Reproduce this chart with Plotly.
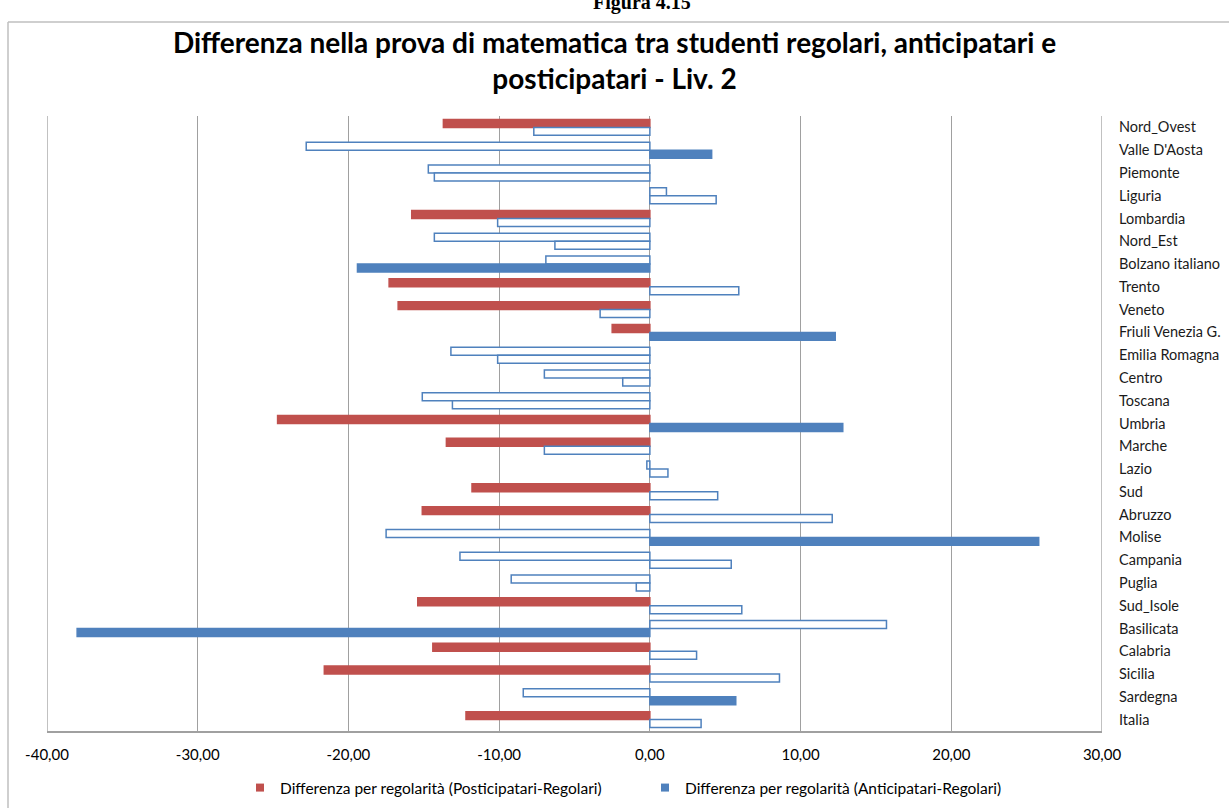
import plotly.graph_objects as go

categories = ["Nord_Ovest", "Valle D'Aosta", "Piemonte", "Liguria", "Lombardia", "Nord_Est",
              "Bolzano italiano", "Trento", "Veneto", "Friuli Venezia G.", "Emilia Romagna",
              "Centro", "Toscana", "Umbria", "Marche", "Lazio", "Sud", "Abruzzo", "Molise",
              "Campania", "Puglia", "Sud_Isole", "Basilicata", "Calabria", "Sicilia",
              "Sardegna", "Italia"]

posticipatari = [-13.7, -22.8, -14.7, 1.1, -15.8, -14.3, -6.9, -17.3, -16.7, -2.5, -13.2,
                 -7.0, -15.1, -24.7, -13.5, -0.2, -11.8, -15.1, -17.5, -12.6, -9.2, -15.4,
                 15.7, -14.4, -21.6, -8.4, -12.2]
anticipatari = [-7.7, 4.1, -14.3, 4.4, -10.1, -6.3, -19.4, 5.9, -3.3, 12.3, -10.1,
                -1.8, -13.1, 12.8, -7.0, 1.2, 4.5, 12.1, 25.8, 5.4, -0.9, 6.1,
                -38.0, 3.1, 8.6, 5.7, 3.4]

# 1 = significant (filled bar), 0 = not significant (hollow bar)
post_sig = [1, 0, 0, 0, 1, 0, 0, 1, 1, 1, 0, 0, 0, 1, 1, 0, 1, 1, 0, 0, 0, 1, 0, 1, 1, 0, 1]
anti_sig = [0, 1, 0, 0, 0, 0, 1, 0, 0, 1, 0, 0, 0, 1, 0, 0, 0, 0, 1, 0, 0, 0, 1, 0, 0, 1, 0]

tick_vals = [-40, -30, -20, -10, 0, 10, 20, 30]
tick_text = ["-40,00", "-30,00", "-20,00", "-10,00", "0,00", "10,00", "20,00", "30,00"]

name_post = "Differenza per regolarità (Posticipatari-Regolari)"
name_anti = "Differenza per regolarità (Anticipatari-Regolari)"

RED = "#C0504D"
BLUE = "#4F81BD"
WHITE = "#FFFFFF"

post_fill = [RED if s else WHITE for s in post_sig]
post_line = [RED if s else BLUE for s in post_sig]
anti_fill = [BLUE if s else WHITE for s in anti_sig]
anti_line = [BLUE for s in anti_sig]

fig = go.Figure()
fig.add_trace(go.Bar(
    y=categories, x=posticipatari, orientation="h", name=name_post, showlegend=False,
    marker=dict(color=post_fill, line=dict(color=post_line, width=1.5)),
))
fig.add_trace(go.Bar(
    y=categories, x=anticipatari, orientation="h", name=name_anti, showlegend=False,
    marker=dict(color=anti_fill, line=dict(color=anti_line, width=1.5)),
))
# legend entries
fig.add_trace(go.Scatter(x=[None], y=[None], mode="markers", name=name_post,
                         marker=dict(symbol="square", size=8, color=RED)))
fig.add_trace(go.Scatter(x=[None], y=[None], mode="markers", name=name_anti,
                         marker=dict(symbol="square", size=8, color=BLUE)))

L, R, T, B = 47, 127, 116, 77
W, H = 1229, 808
pw, ph = W - L - R, H - T - B

def px_to_paper_x(px):
    return (px - L) / pw

def px_to_paper_y(py):
    return (H - B - py) / ph

fig.update_layout(
    width=W, height=H,
    margin=dict(l=L, r=R, t=T, b=B, autoexpand=False),
    paper_bgcolor="white", plot_bgcolor="white",
    barmode="group", bargap=0.3, bargroupgap=0,
    font=dict(family="Lato, Open Sans, sans-serif", size=15, color="#000000"),
    title=dict(
        text="Differenza nella prova di matematica tra studenti regolari, anticipatari e<br>posticipatari - Liv. 2",
        x=0.5, xref="container", xanchor="center",
        y=(H - 53) / H, yref="container", yanchor="middle",
        font=dict(family="Lato, Open Sans, sans-serif", size=28, color="#000000", weight="bold"),
    ),
    xaxis=dict(
        range=[-40, 30], tickvals=tick_vals, ticktext=tick_text, automargin=False,
        showgrid=True, gridcolor="#A0A0A0", gridwidth=1.3,
        zeroline=True, zerolinecolor="#A0A0A0", zerolinewidth=1.3,
        showline=True, linecolor="#A0A0A0", linewidth=1.5,
        ticks="", tickfont=dict(size=15), ticklabelstandoff=9,
    ),
    yaxis=dict(
        autorange="reversed", side="right", showgrid=False, zeroline=False, automargin=False,
        showline=False, ticks="", tickfont=dict(size=14.5, color="#1a1a1a"),
        ticklabelstandoff=16,
    ),
    legend=dict(
        orientation="h", x=px_to_paper_x(645), xanchor="center",
        y=px_to_paper_y(788), yanchor="middle",
        font=dict(size=15.5), itemwidth=30, tracegroupgap=0,
        entrywidth=360, entrywidthmode="pixels",
    ),
    shapes=[
        dict(type="line", xref="paper", yref="paper",
             x0=px_to_paper_x(8), x1=px_to_paper_x(1240), y0=px_to_paper_y(22), y1=px_to_paper_y(22),
             line=dict(color="#BFBFBF", width=1.5)),
        dict(type="line", xref="paper", yref="paper",
             x0=px_to_paper_x(8), x1=px_to_paper_x(8), y0=px_to_paper_y(22), y1=px_to_paper_y(820),
             line=dict(color="#BFBFBF", width=1.5)),
        dict(type="line", xref="x", yref="paper", x0=-40, x1=-40, y0=0, y1=1,
             line=dict(color="#A0A0A0", width=1.3)),
        dict(type="line", xref="x", yref="paper", x0=30, x1=30, y0=0, y1=1,
             line=dict(color="#A0A0A0", width=1.3)),
    ],
    annotations=[
        dict(text="<b>Figura 4.15</b>", xref="paper", yref="paper",
             x=px_to_paper_x(642), y=px_to_paper_y(2), xanchor="center", yanchor="middle",
             showarrow=False, font=dict(family="Liberation Serif, serif", size=20, color="#000")),
    ],
)

fig.write_html("out.html", config={"displayModeBar": False},
               post_script="document.body.style.margin='0';")
